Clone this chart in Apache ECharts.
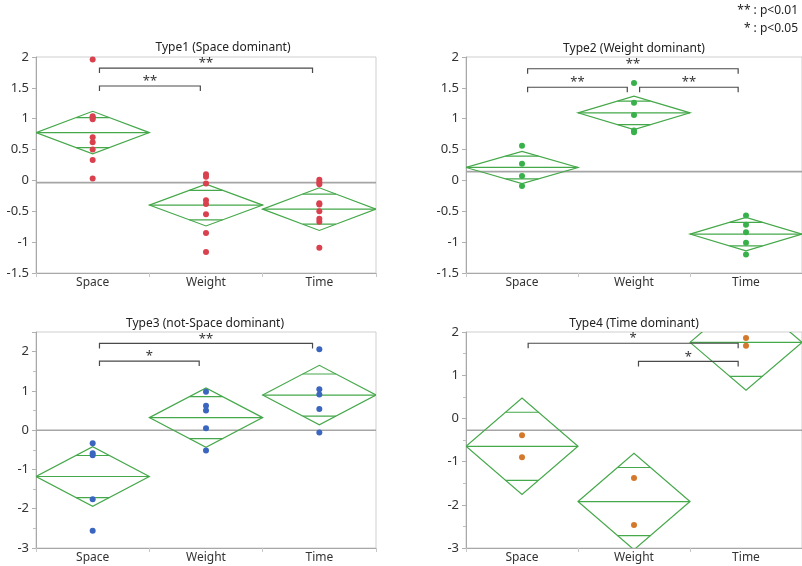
<!DOCTYPE html>
<html>
<head>
<meta charset="utf-8">
<script src="https://cdn.jsdelivr.net/npm/echarts@6/dist/echarts.min.js"></script>
<style>
  html, body { margin: 0; padding: 0; background: #fff; }
  #chart { width: 802px; height: 566px; }
</style>
</head>
<body>
<div id="chart"></div>
<script>
// ---------------- data ----------------
const categories = ['Space', 'Weight', 'Time'];
const panelTitles = ['Type1 (Space dominant)', 'Type2 (Weight dominant)', 'Type3 (not-Space dominant)', 'Type4 (Time dominant)'];

// individual scores
const type1Space  = [1.96, 1.04, 1.02, 0.99, 0.70, 0.62, 0.50, 0.33, 0.03];
const type1Weight = [0.10, 0.06, -0.05, -0.32, -0.38, -0.55, -0.85, -1.16];
const type1Time   = [0.01, -0.03, -0.06, -0.37, -0.39, -0.50, -0.62, -0.67, -1.09];

const type2Space  = [0.56, 0.27, 0.07, -0.09];
const type2Weight = [1.58, 1.26, 1.06, 0.81, 0.78];
const type2Time   = [-0.57, -0.72, -0.84, -1.01, -1.20];

const type3Space  = [-0.33, -0.59, -0.64, -1.76, -2.56];
const type3Weight = [0.98, 0.62, 0.50, 0.05, -0.52];
const type3Time   = [2.06, 1.04, 0.91, 0.54, -0.06];

const type4Space  = [-0.39, -0.90];
const type4Weight = [-1.38, -2.47];
const type4Time   = [1.86, 1.68];

// means diamonds: group mean and 95% CI half-width
const type1Means = [0.775, -0.40, -0.465];
const type1Half  = [0.345, 0.338, 0.346];
const type2Means = [0.21, 1.095, -0.87];
const type2Half  = [0.26, 0.27, 0.27];
const type3Means = [-1.18, 0.32, 0.895];
const type3Half  = [0.757, 0.755, 0.757];
const type4Means = [-0.646, -1.925, 1.76];
const type4Half  = [1.115, 1.115, 1.11];

// grand means
const grandMeans = [-0.035, 0.142, 0.0, -0.275];

// significance brackets: [from category pos, to category pos, y, label]
const type1Brackets = [[0.06, 1.94, 1.82, '**'], [0.06, 0.95, 1.53, '**']];
const type2Brackets = [[0.05, 1.93, 1.81, '**'], [0.05, 0.94, 1.51, '**'], [1.05, 1.93, 1.51, '**']];
const type3Brackets = [[0.06, 1.94, 2.21, '**'], [0.06, 0.94, 1.76, '*']];
const type4Brackets = [[0.055, 1.93, 1.74, '*'], [1.04, 1.93, 1.32, '*']];

// y axis ranges
const yMin = [-1.5, -1.5, -3, -3];
const yMax = [2, 2, 2.5, 2];
const yInterval = [0.5, 0.5, 1, 1];

// ---------------- build ----------------
const pointColors = ['#d9414e', '#38b14a', '#3a66bf', '#d4782b'];
const diamondColor = '#45a84a';
const panels = [
  { pts: [type1Space, type1Weight, type1Time], means: type1Means, half: type1Half, br: type1Brackets },
  { pts: [type2Space, type2Weight, type2Time], means: type2Means, half: type2Half, br: type2Brackets },
  { pts: [type3Space, type3Weight, type3Time], means: type3Means, half: type3Half, br: type3Brackets },
  { pts: [type4Space, type4Weight, type4Time], means: type4Means, half: type4Half, br: type4Brackets }
];
const gridPos = [
  { left: 36, top: 57, width: 340, height: 216 },
  { left: 466, top: 57, width: 340, height: 216 },
  { left: 36, top: 332, width: 340, height: 216 },
  { left: 466, top: 332, width: 340, height: 216 }
];
const titlePos = [[223, 48], [634, 49], [205, 324], [634, 324]];
const FONT = '"Noto Sans", "Open Sans", sans-serif';

const grid = [], xAxis = [], yAxis = [], series = [], graphic = [];

panels.forEach((p, i) => {
  grid.push(Object.assign({ show: true, borderColor: '#cfcfcf', borderWidth: 1, backgroundColor: '#fff' }, gridPos[i]));
  xAxis.push({
    type: 'category', gridIndex: i, data: categories, boundaryGap: true, position: 'bottom',
    axisLine: { onZero: false, lineStyle: { color: '#a8a8a8', width: 1 } },
    axisTick: { show: true, length: 4, lineStyle: { color: '#c8c8c8' } },
    axisLabel: { color: '#333', fontSize: 12, fontFamily: FONT, margin: 4 },
    splitLine: { show: false }
  });
  xAxis.push({ type: 'value', gridIndex: i, min: -0.5, max: 2.5, show: false, splitLine: { show: false },
    axisLine: { onZero: false } });
  const minor = yInterval[i] === 1;
  yAxis.push({
    type: 'value', gridIndex: i, min: yMin[i], max: yMax[i], interval: yInterval[i], position: 'left',
    axisLine: { show: true, onZero: false, lineStyle: { color: '#a8a8a8', width: 1 } },
    axisTick: { show: true, length: 4, lineStyle: { color: '#b0b0b0' } },
    minorTick: { show: minor, splitNumber: 2, length: 3, lineStyle: { color: '#c0c0c0' } },
    axisLabel: {
      color: '#333', fontSize: 13, fontFamily: FONT, margin: 7,
      formatter: v => (Math.abs(v / yInterval[i] - Math.round(v / yInterval[i])) > 1e-6 ? '' : String(v))
    },
    splitLine: { show: false }
  });

  // grand mean line
  series.push({
    type: 'custom', xAxisIndex: 2 * i + 1, yAxisIndex: i, silent: true, z: 1, clip: true,
    data: [[grandMeans[i]]],
    renderItem: (params, api) => {
      const a = api.coord([-0.5, api.value(0)]);
      const b = api.coord([2.5, api.value(0)]);
      return { type: 'line', shape: { x1: a[0], y1: a[1], x2: b[0], y2: b[1] }, style: { stroke: '#a5a5a5', lineWidth: 1.6 } };
    }
  });

  // means diamonds
  series.push({
    type: 'custom', xAxisIndex: 2 * i + 1, yAxisIndex: i, silent: true, z: 2, clip: true,
    data: p.means.map((m, c) => [c, m, p.half[c]]),
    renderItem: (params, api) => {
      const c = api.value(0), m = api.value(1), h = api.value(2);
      const L = api.coord([c - 0.5, m]), R = api.coord([c + 0.5, m]);
      const T = api.coord([c, m + h]), B = api.coord([c, m - h]);
      const s = Math.SQRT1_2;
      const k = 0.5 * (1 - s);
      const u1 = api.coord([c - k, m + h * s]), u2 = api.coord([c + k, m + h * s]);
      const d1 = api.coord([c - k, m - h * s]), d2 = api.coord([c + k, m - h * s]);
      const st = { stroke: diamondColor, lineWidth: 1.2, fill: null };
      return {
        type: 'group', children: [
          { type: 'polygon', shape: { points: [L, T, R, B] }, style: st },
          { type: 'line', shape: { x1: L[0], y1: L[1], x2: R[0], y2: R[1] }, style: st },
          { type: 'line', shape: { x1: u1[0], y1: u1[1], x2: u2[0], y2: u2[1] }, style: st },
          { type: 'line', shape: { x1: d1[0], y1: d1[1], x2: d2[0], y2: d2[1] }, style: st }
        ]
      };
    }
  });

  // points
  const pts = [];
  p.pts.forEach((arr, c) => arr.forEach(v => pts.push([c, v])));
  series.push({
    type: 'scatter', xAxisIndex: 2 * i + 1, yAxisIndex: i, z: 3, silent: true,
    symbolSize: 6, itemStyle: { color: pointColors[i], opacity: 1 },
    data: pts
  });

  // significance brackets
  const br = p.br;
  series.push({
    type: 'custom', xAxisIndex: 2 * i + 1, yAxisIndex: i, silent: true, z: 4, clip: false,
    data: br.map(b => [b[0], b[1], b[2]]),
    renderItem: (params, api) => {
      const b = br[params.dataIndex];
      const a = api.coord([b[0], b[2]]);
      const e = api.coord([b[1], b[2]]);
      const drop = 5;
      return {
        type: 'group', children: [
          { type: 'polyline', shape: { points: [[a[0], a[1] + drop], [a[0], a[1]], [e[0], e[1]], [e[0], e[1] + drop]] },
            style: { stroke: '#4a4a4a', lineWidth: 1.2, fill: null } },
          { type: 'text', x: (a[0] + e[0]) / 2, y: a[1] + 2,
            style: { text: b[3], align: 'center', verticalAlign: 'bottom', textAlign: 'center', textVerticalAlign: 'bottom',
                     fill: '#333', font: '13px ' + FONT } }
        ]
      };
    }
  });

  graphic.push({
    type: 'text', x: titlePos[i][0], y: titlePos[i][1],
    style: { text: panelTitles[i], align: 'center', verticalAlign: 'middle', textAlign: 'center', textVerticalAlign: 'middle',
             fill: '#222', font: '12px ' + FONT }
  });
});

graphic.push({ type: 'text', x: 798, y: 11,
  style: { text: '** : p<0.01', align: 'right', verticalAlign: 'middle', textAlign: 'right', textVerticalAlign: 'middle', fill: '#222', font: '12px ' + FONT } });
graphic.push({ type: 'text', x: 798, y: 29,
  style: { text: '* : p<0.05', align: 'right', verticalAlign: 'middle', textAlign: 'right', textVerticalAlign: 'middle', fill: '#222', font: '12px ' + FONT } });

const chart = echarts.init(document.getElementById('chart'), null, { renderer: 'canvas' });
chart.setOption({ animation: false, backgroundColor: '#fff', grid, xAxis, yAxis, series, graphic });
</script>
</body>
</html>
